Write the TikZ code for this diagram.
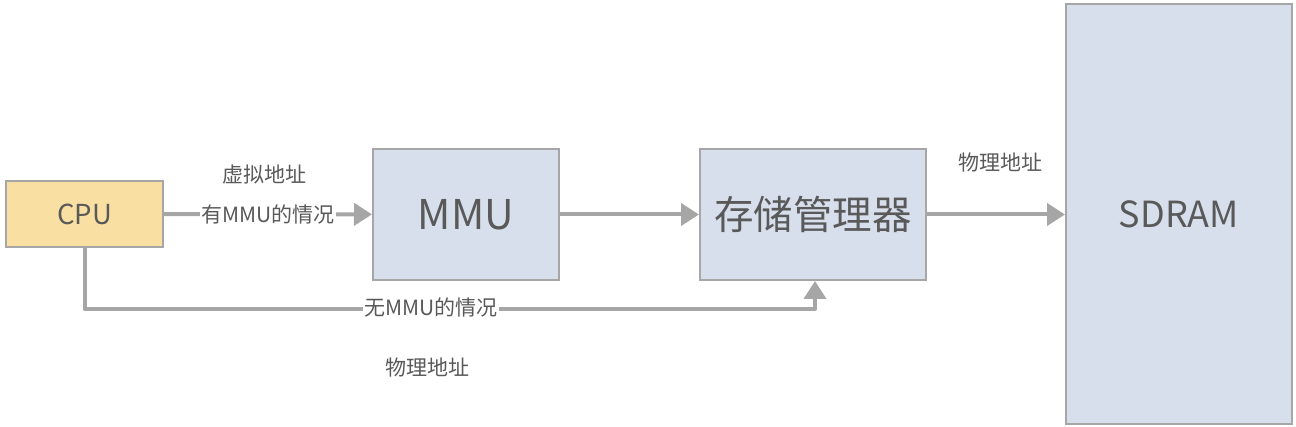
\documentclass[tikz,border=0pt]{standalone}
\usepackage{fontspec}
\setmainfont{Noto Sans CJK SC}
\usetikzlibrary{arrows.meta}
\definecolor{txt}{HTML}{595959}
\definecolor{edge}{HTML}{A6A6A6}
\definecolor{bluef}{HTML}{D6DFEB}
\definecolor{orangef}{HTML}{FADFA3}
\tikzset{
  blk/.style={draw=edge, line width=2pt, text=txt, inner sep=0pt, anchor=north west},
  arr/.style={draw=edge, line width=4pt, line join=round, -{Triangle[length=18pt,width=22pt]}},
  lbl/.style={text=txt, inner sep=1pt, font=\fontsize{21}{24}\selectfont}
}
\begin{document}
\begin{tikzpicture}[x=1pt,y=-1pt]
\useasboundingbox (0,0) rectangle (1296,427);
\node[blk, fill=orangef, minimum width=157pt, minimum height=66pt, font=\fontsize{27.5}{30}\selectfont] (cpu) at (5,180) {CPU};
\node[blk, fill=bluef, minimum width=186pt, minimum height=131pt, font=\fontsize{41}{46}\selectfont] (mmu) at (372,148) {MMU};
\node[blk, fill=bluef, minimum width=226pt, minimum height=131pt, font=\fontsize{39.5}{44}\selectfont] (mem) at (699,148) {存储管理器};
\node[blk, fill=bluef, minimum width=226pt, minimum height=420pt, font=\fontsize{36}{42}\selectfont] (sdram) at (1065,3) {SDRAM};
\draw[arr] (cpu) -- (mmu) node[lbl, fill=white, pos=0.5] (l1) {有MMU的情况};
\draw[arr] (mmu) -- (mem);
\draw[arr] (mem.east) -- (mem.east -| sdram.west);
\draw[arr] (cpu.south) -- ++(0,61) -| ([xshift=2pt]mem.south);
\node[lbl] (va) at (264,175) {虚拟地址};
\node[lbl] (pa1) at (1000,163) {物理地址};
\node[lbl, fill=white] (l2) at (431,307) {无MMU的情况};
\node[lbl] (pa2) at (427,368) {物理地址};
\end{tikzpicture}
\end{document}
